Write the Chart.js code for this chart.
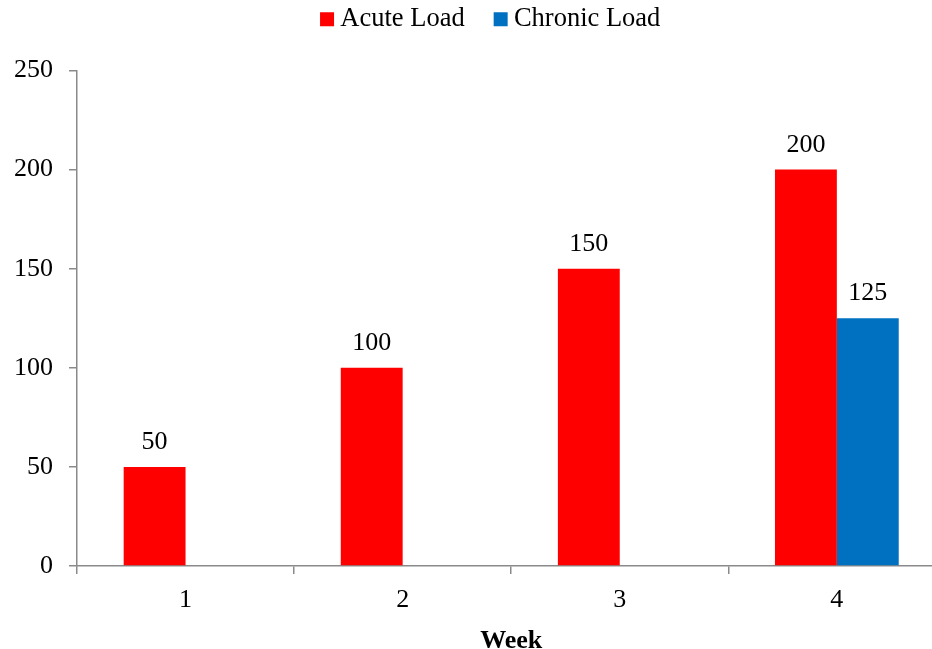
<!DOCTYPE html>
<html>
<head>
<meta charset="utf-8">
<script src="https://cdn.jsdelivr.net/npm/chart.js@4"></script>
<style>
  html, body { margin: 0; padding: 0; background: #fff; overflow: hidden; }
  #wrap { width: 960px; height: 649px; }
</style>
</head>
<body>
<div id="wrap"><canvas id="c" width="960" height="649"></canvas></div>
<script>
// Weekly training load
const weeks = ['1', '2', '3', '4'];
const acuteLoad = [50, 100, 150, 200];
const chronicLoad = [null, null, null, 125];
const yTicks = [0, 50, 100, 150, 200, 250];

const AXIS_GREY = '#8a8a8a';
const FONT = 'Liberation Serif, Times New Roman, serif';

// value labels above each bar
const barValues = {
  id: 'barValues',
  afterDatasetsDraw(chart) {
    const ctx = chart.ctx;
    ctx.save();
    ctx.font = '26px ' + FONT;
    ctx.fillStyle = '#000';
    ctx.textAlign = 'center';
    ctx.textBaseline = 'alphabetic';
    chart.data.datasets.forEach((ds, i) => {
      const meta = chart.getDatasetMeta(i);
      meta.data.forEach((bar, j) => {
        const v = ds.data[j];
        if (v === null || v === undefined) return;
        ctx.fillText(String(v), bar.x, bar.y - 18);
      });
    });
    ctx.restore();
  }
};

// keep the legend row tight to the top edge while its spacing stays wide
const legendNudge = {
  id: 'legendNudge',
  afterLayout(chart) {
    const lg = chart.legend;
    if (!lg) return;
    lg.top -= 28; lg.bottom -= 28;
    lg.left += 21; lg.right += 21;
  }
};

new Chart(document.getElementById('c'), {
  type: 'bar',
  data: {
    labels: weeks,
    datasets: [
      { label: 'Acute Load', data: acuteLoad, backgroundColor: '#FF0000', borderWidth: 0 },
      { label: 'Chronic Load', data: chronicLoad, backgroundColor: '#0070C0', borderWidth: 0 }
    ]
  },
  options: {
    responsive: false,
    animation: false,
    datasets: { bar: { categoryPercentage: 0.57, barPercentage: 1.0 } },
    layout: { padding: { left: 0, right: 14.6, top: -2, bottom: 0 } },
    plugins: {
      tooltip: { enabled: false },
      legend: {
        position: 'top',
        align: 'center',
        labels: {
          font: { family: FONT, size: 26.5 },
          color: '#000',
          usePointStyle: true,
          pointStyle: 'rect',
          boxWidth: 0.01,
          boxHeight: 14,
          padding: 36
        }
      }
    },
    scales: {
      x: {
        afterFit(scale) { scale.height = 83; },
        grid: {
          display: true, drawOnChartArea: false, drawTicks: true,
          tickLength: 8, color: AXIS_GREY, lineWidth: 1.5, offset: true
        },
        border: { display: true, color: AXIS_GREY, width: 1.5 },
        ticks: { font: { family: FONT, size: 26 }, color: '#000', padding: 11 },
        title: {
          display: true, text: 'Week', color: '#000',
          font: { family: FONT, size: 26, weight: 'bold' },
          padding: { top: 0, bottom: -8 }
        }
      },
      y: {
        min: 0, max: 250,
        afterFit(scale) { scale.width = 77; },
        afterBuildTicks(scale) { scale.ticks = yTicks.map(v => ({ value: v })); },
        grid: {
          display: true, drawOnChartArea: false, drawTicks: true,
          tickLength: 8, color: AXIS_GREY, lineWidth: 1.5
        },
        border: { display: true, color: AXIS_GREY, width: 1.5 },
        ticks: { font: { family: FONT, size: 26 }, color: '#000', padding: 16 }
      }
    }
  },
  plugins: [barValues, legendNudge]
});
</script>
</body>
</html>
